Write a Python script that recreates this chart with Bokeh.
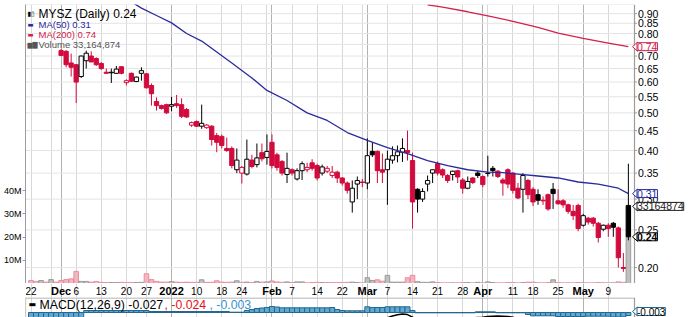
import math
from bokeh.plotting import figure
from bokeh.models import (Range1d, LinearAxis, LinearScale, FixedTicker,
                          CustomJSTickFormatter, Grid, Label)
from bokeh.layouts import column
from bokeh.embed import file_html
from bokeh.resources import INLINE
from bokeh.core.properties import value

NaN = float("nan")

# ---------------- data ----------------
symbol_title = "MYSZ (Daily)"
day = list(range(120))  # trading days 22 Nov 2021 .. 13 May 2022

open_p = [NaN, NaN, NaN, NaN, NaN, NaN,
          .723, .720, .672, .665, .620, .681, .700, .690, .670, .636,
          .634, .632, .657, .598, .632, .602, .632, .630, .588, .535,
          .522, .525, .520, .528, .525, .510, .465, .475, .462, .458,
          .462, .437, .435, .405, .405, .357, .350, .348, .378, .368,
          .395, .384, .420, .390, .375, .347, .357, .338, .355, .357,
          .372, .366, .350, .354, .345, .352, .340, .330, .295, .328,
          .332, .330, .398, .398, .357, .357, .378, .388, .396, .400,
          .377, .318, .300, .328, .350, .370, .357, .345, .347, .355,
          .336, .320, .340, .350, .343, .349, .360, .354, .336, .357,
          .350, .320, .318, .335, .318, .308, .298, .308, .318, .297,
          .297, .290, .279, .289, .257, .268, .268, .260, .251, .257,
          .260, .253, .200, .289]
high_p = [NaN, NaN, NaN, NaN, NaN, NaN,
          .730, .725, .710, .668, .702, .723, .720, .695, .675, .650,
          .650, .660, .660, .610, .635, .620, .655, .633, .595, .548,
          .525, .528, .550, .556, .545, .515, .475, .478, .525, .468,
          .465, .444, .440, .432, .410, .405, .365, .427, .390, .417,
          .417, .440, .440, .395, .378, .395, .360, .360, .375, .372,
          .380, .370, .368, .365, .365, .355, .342, .333, .335, .343,
          .338, .430, .420, .400, .393, .400, .410, .412, .430, .450,
          .395, .320, .320, .345, .357, .375, .360, .348, .355, .357,
          .340, .343, .342, .355, .345, .388, .365, .356, .340, .360,
          .352, .330, .350, .338, .322, .318, .305, .310, .330, .318,
          .300, .292, .290, .292, .275, .270, .270, .262, .258, .260,
          .262, .255, .218, .370]
low_p = [NaN, NaN, NaN, NaN, NaN, NaN,
         .700, .655, .620, .530, .615, .650, .675, .660, .645, .630,
         .597, .630, .628, .588, .600, .600, .605, .578, .522, .507,
         .510, .497, .505, .515, .485, .485, .460, .460, .455, .455,
         .412, .396, .405, .397, .360, .350, .329, .345, .360, .362,
         .375, .368, .360, .355, .345, .330, .345, .335, .336, .352,
         .355, .335, .345, .350, .340, .330, .325, .310, .277, .300,
         .322, .318, .385, .330, .330, .290, .370, .373, .374, .377,
         .252, .277, .295, .314, .330, .345, .340, .330, .335, .330,
         .310, .318, .328, .340, .322, .343, .343, .340, .306, .320,
         .310, .300, .277, .300, .288, .290, .290, .280, .283, .290,
         .285, .275, .265, .248, .255, .258, .255, .232, .248, .240,
         .240, .200, .195, .235]
close_p = [NaN, NaN, NaN, NaN, NaN, NaN,
           .702, .665, .655, .600, .700, .712, .676, .665, .650, .632,
           .636, .648, .632, .605, .603, .618, .642, .580, .560, .522,
           .513, .500, .525, .522, .490, .488, .472, .462, .470, .465,
           .427, .420, .412, .400, .366, .378, .362, .380, .364, .383,
           .381, .398, .366, .362, .350, .360, .350, .355, .370, .362,
           .360, .340, .363, .360, .352, .340, .330, .316, .320, .335,
           .331, .388, .390, .355, .352, .380, .388, .397, .405, .395,
           .295, .300, .314, .335, .357, .350, .346, .335, .354, .342,
           .320, .333, .331, .345, .327, .350, .355, .343, .330, .328,
           .316, .302, .345, .308, .295, .298, .297, .283, .310, .292,
           .290, .279, .272, .252, .272, .262, .260, .239, .257, .252,
           .254, .212, .199, .240]
volume_m = [1.3, 0.9, 1.3, 0.6, 1.7, 0.6, 1.3, 1.7, 2.0, 5.2,
            0.9, 0.9, 0.6, 0.9, 0.5, 0.4, 0.4, 0.4, 0.5, 0.4,
            0.4, 0.4, 0.5, 4.2, 1.7, 0.9, 0.6, 0.6, 0.8, 0.6,
            0.5, 0.6, 0.5, 0.5, 1.6, 0.5, 0.5, 1.2, 0.6, 0.5,
            0.6, 1.2, 0.5, 0.6, 0.4, 0.9, 0.6, 0.7, 1.1, 0.7,
            0.5, 0.7, 0.4, 0.7, 0.7, 0.3, 0.4, 0.5, 0.4, 0.4,
            0.4, 0.4, 0.4, 0.5, 0.6, 0.4, 0.3, 2.5, 1.3, 1.6,
            1.0, 3.5, 0.6, 0.6, 0.6, 2.5, 3.5, 0.8, 0.5, 0.5,
            0.7, 0.4, 0.3, 0.3, 0.3, 0.3, 0.4, 0.4, 0.3, 0.5,
            0.3, 0.7, 0.4, 0.3, 0.3, 0.4, 0.4, 0.3, 0.4, 0.6,
            0.6, 0.3, 0.3, 0.4, 1.6, 0.4, 0.3, 0.3, 0.3, 0.4,
            0.3, 0.3, 0.3, 0.4, 0.3, 0.3, 0.3, 0.7, 0.5, 33.164874]
early_up = [False, False, True, False, True, False]  # days whose candles sit above the chart

ma50_day = [20, 22, 25, 28, 31, 34, 37, 40, 44, 47, 51, 55, 59, 63, 67, 71, 75,
            79, 83, 87, 91, 94, 97, 101, 105, 109, 113, 117, 119]
ma50_val = [0.965, 0.930, 0.890, 0.852, 0.800, 0.765, 0.717, 0.672, 0.615, 0.571,
            0.538, 0.500, 0.478, 0.445, 0.425, 0.407, 0.393, 0.377, 0.366, 0.357,
            0.352, 0.351, 0.348, 0.344, 0.340, 0.332, 0.328, 0.320, 0.310]
ma200_day = [79, 82, 87, 91, 96, 101, 105, 110, 115, 119]
ma200_val = [0.948, 0.935, 0.910, 0.888, 0.860, 0.830, 0.802, 0.777, 0.756, 0.740]

macd_hist = [-0.012, -0.013, -0.012, -0.011, -0.012, -0.014, -0.016, -0.015, -0.013, -0.012,
             -0.009, 0.002, 0.002, 0.002, 0.002, 0.002, 0.002, 0.002, 0.002, 0.002,
             0.002, 0.002, 0.002, 0.002, 0.001, 0.001, 0.001, 0.001, 0.001, 0.001,
             0.001, 0.001, 0.001, 0.001, 0.001, 0.001, 0.001, 0.001, 0.001, 0.001,
             0.0003, 0.0003, 0.0003, 0.002, 0.003, 0.004, 0.0045, 0.005, 0.006, 0.0055,
             0.0047, 0.0047, 0.0047, 0.0047, 0.0047, 0.0047, 0.0047, 0.0047, 0.0047, 0.0047,
             0.005, 0.003, 0.002, 0.0017, 0.0017, 0.0017, 0.0017, 0.0057, 0.005, 0.005,
             0.005, 0.0057, 0.0057, 0.0057, 0.0057, 0.0057, 0.002, -0.0003, -0.0003, -0.0003,
             -0.0003, -0.0003, -0.0003, -0.0003, -0.0003, -0.0003, -0.0003, -0.0003, -0.0003, 0.0007,
             0.0007, 0.0007, 0.0007, -0.0003, -0.0003, -0.0003, -0.0003, -0.0003, -0.0003, -0.002,
             -0.0033, -0.0033, -0.0033, -0.0033, -0.0033, -0.004, -0.004, -0.004, -0.004, -0.004,
             -0.004, -0.0037, -0.0037, -0.0037, -0.0037, -0.0037, -0.0045, -0.0045, -0.0045, -0.003]
macd_line = [-0.060, -0.063, -0.066, -0.069, -0.073, -0.077, -0.082, -0.087, -0.091, -0.097,
             -0.099, -0.098, -0.096, -0.094, -0.092, -0.090, -0.087, -0.084, -0.081, -0.079,
             -0.077, -0.074, -0.071, -0.069, -0.068, -0.068, -0.067, -0.066, -0.065, -0.064,
             -0.063, -0.063, -0.062, -0.061, -0.060, -0.059, -0.058, -0.057, -0.056, -0.055,
             -0.054, -0.052, -0.050, -0.047, -0.044, -0.041, -0.038, -0.035, -0.032, -0.030,
             -0.028, -0.026, -0.024, -0.022, -0.020, -0.018, -0.017, -0.016, -0.015, -0.014,
             -0.013, -0.013, -0.013, -0.013, -0.012, -0.012, -0.011, -0.009, -0.008, -0.007,
             -0.006, -0.0052, -0.0035, -0.0022, -0.0016, -0.0021, -0.0046, -0.0075, -0.0085, -0.0088,
             -0.0086, -0.0082, -0.0078, -0.0074, -0.0070, -0.0066, -0.0062, -0.0058, -0.0054, -0.0050,
             -0.0047, -0.0040, -0.0037, -0.0036, -0.0037, -0.0040, -0.0048, -0.0062, -0.0075, -0.0090,
             -0.0105, -0.0120, -0.0132, -0.0145, -0.0155, -0.0165, -0.0175, -0.0185, -0.0195, -0.0205,
             -0.0215, -0.0222, -0.0230, -0.0238, -0.0245, -0.0252, -0.0260, -0.0275, -0.0290, -0.0270]

week_start_days = [0, 4, 9, 14, 19, 23, 28, 33, 38, 42, 47, 52, 57, 62, 66, 71, 76,
                   81, 86, 91, 96, 100, 105, 110, 115]
month_start_days = [6, 28, 48, 67, 90, 110]
tick_days = [0, 6, 9, 14, 19, 23, 28, 33, 38, 42, 48, 52, 57, 62, 67, 71, 76, 81,
             86, 90, 96, 100, 105, 110, 115]
tick_labels = ["22", "Dec", "6", "13", "20", "27", "2022", "10", "18", "24", "Feb",
               "7", "14", "22", "Mar", "7", "14", "21", "28", "Apr", "11", "18",
               "25", "May", "9"]
bold_labels = ["Dec", "2022", "Feb", "Mar", "Apr", "May"]
price_ticks = [0.20, 0.25, 0.30, 0.35, 0.40, 0.45, 0.50, 0.55, 0.60, 0.65, 0.70,
               0.80, 0.85, 0.90]
price_grid = [0.20, 0.25, 0.30, 0.35, 0.40, 0.45, 0.50, 0.55, 0.60, 0.65, 0.70,
              0.75, 0.80, 0.85, 0.90, 0.95]
volume_ticks = [10e6, 20e6, 30e6, 40e6]

last_close = 0.24
last_ma50 = 0.31
last_ma200 = 0.74
last_volume = 33164874
macd_now, signal_now, hist_now = -0.027, -0.024, -0.003

# ---------------- layout helpers ----------------
W = 688
LEFT = 25
PANEL_R = 634                # right edge of the plotting panels (pixels)
MAIN_H, TOP = 283, 4
BAND_H, MACD_H = 14, 20
X0, DX = 30.5, 5.02          # pixel of first day, pixels per day
P_TOP, P_BOT = 0.95, 0.182
VOL_TOP = 120e6
LOGSPAN = math.log(P_TOP / P_BOT)


def x_at(px):
    return (px - X0) / DX


def p_at(py):
    frac = (py - TOP) / (MAIN_H - TOP)
    return math.exp(math.log(P_TOP) - frac * LOGSPAN)


def py_of(p):
    return TOP + (MAIN_H - TOP) * math.log(P_TOP / p) / LOGSPAN


x_start = x_at(LEFT)
x_end = x_at(W)
x_panel = x_at(PANEL_R)

RED = "#d20b3d"
BLACK = "#000000"
NAVY = "#2a2a9c"
MA200_C = "#d4204c"
FONT = "Liberation Sans"
GRID_W = "#d8d8d8"
GRID_M = "#b2b2b2"
GRID_H = "#e4e4e4"
BORDER = "#9c9c9c"

# ---------------- main price panel ----------------
p = figure(width=W, height=MAIN_H, x_range=Range1d(x_start, x_end),
           y_range=Range1d(P_BOT, P_TOP), y_axis_type="log",
           y_axis_location=None, x_axis_location=None,
           toolbar_location=None, output_backend="svg",
           min_border_left=LEFT, min_border_right=0,
           min_border_top=TOP, min_border_bottom=0,
           background_fill_color="white", border_fill_color="white",
           outline_line_color=None)
p.grid.visible = False

# grid lines (stop at the panel's right edge)
p.segment(x0=[x_start] * len(price_grid), y0=price_grid,
          x1=[x_panel] * len(price_grid), y1=price_grid,
          line_color=GRID_H, line_width=1)
p.add_layout(Grid(dimension=0, ticker=FixedTicker(ticks=week_start_days),
                  grid_line_color=GRID_W))
p.add_layout(Grid(dimension=0, ticker=FixedTicker(ticks=month_start_days),
                  grid_line_color=GRID_M))

# panel borders (right and bottom)
p.segment(x0=[x_panel, x_start], y0=[P_BOT, P_BOT], x1=[x_panel, x_panel],
          y1=[P_TOP, P_BOT], line_color=BORDER, line_width=1.2)

# price scale on the right (drawn as text)
p.segment(x0=[x_panel] * len(price_ticks), y0=price_ticks,
          x1=[x_at(PANEL_R + 2.5)] * len(price_ticks), y1=price_ticks,
          line_color=BORDER, line_width=1)
p.text(x=[x_at(PANEL_R + 3.5)] * len(price_ticks), y=price_ticks,
       text=[f"{t:.2f}" for t in price_ticks], text_align="left",
       text_baseline="middle", text_font=value(FONT), text_font_size="10.5px",
       text_color="#000000")

# volume scale on the left
p.extra_y_ranges = {"vol": Range1d(0, VOL_TOP)}
p.extra_y_scales = {"vol": LinearScale()}
vax = LinearAxis(y_range_name="vol", ticker=FixedTicker(ticks=volume_ticks),
                 formatter=CustomJSTickFormatter(code="return (tick/1e6).toFixed(0) + 'M';"))
vax.major_label_text_font = FONT
vax.major_label_text_font_size = "9px"
vax.major_label_text_color = "#000000"
vax.axis_line_color = BORDER
vax.major_tick_line_color = BORDER
vax.major_tick_out = 3
vax.major_tick_in = 0
vax.minor_tick_line_color = None
vax.major_label_standoff = 1
p.add_layout(vax, "left")

# direction of each day (close vs previous close)
up_day = []
for i in day:
    if math.isnan(close_p[i]):
        up_day.append(early_up[i])
    else:
        prev = close_p[i - 1] if i > 0 else NaN
        up_day.append((not math.isnan(prev)) and close_p[i] > prev)

# volume bars
vol = [v * 1e6 for v in volume_m]
vol_fill = ["#c0c0c0" if u else "#f3b6c1" for u in up_day]
vol_line = ["#8c8c8c" if u else "#e2808f" for u in up_day]
p.vbar(x=day, top=vol, bottom=0, width=0.92, y_range_name="vol",
       fill_color=vol_fill, line_color=vol_line, line_width=0.8)

# candles
cx, ctop, cbot, chi, clo, cfill, cline = [], [], [], [], [], [], []
for i in day:
    if math.isnan(close_p[i]):
        continue
    col = BLACK if up_day[i] else RED
    hollow = close_p[i] > open_p[i]
    cx.append(i)
    ctop.append(max(open_p[i], close_p[i]))
    cbot.append(min(open_p[i], close_p[i]))
    chi.append(high_p[i])
    clo.append(low_p[i])
    cline.append(col)
    cfill.append("white" if hollow else col)
p.segment(x0=cx, y0=clo, x1=cx, y1=chi, line_color=cline, line_width=1)
p.vbar(x=cx, top=ctop, bottom=cbot, width=0.85, fill_color=cfill,
       line_color=cline, line_width=1)

# moving averages
p.line(ma50_day, ma50_val, line_color=NAVY, line_width=1.3)
p.line(ma200_day, ma200_val, line_color=MA200_C, line_width=1.3)

# legend (top-left)
legend_rows = [
    ("▮▯", f"{symbol_title} {last_close:.2f}", BLACK, "12px", 13),
    ("▬", f"MA(50) {last_ma50:.2f}", NAVY, "9.5px", 24),
    ("▬", f"MA(200) {last_ma200:.2f}", MA200_C, "9.5px", 34),
    ("▆▇", f"Volume {last_volume:,}", "#555555", "9.5px", 44),
]
for icon, txt, col, size, py in legend_rows:
    p.add_layout(Label(x=x_at(27), y=p_at(py), text=icon, text_color=col,
                       text_font="DejaVu Sans", text_font_size="6.5px",
                       text_baseline="middle", text_align="left"))
    p.add_layout(Label(x=x_at(38), y=p_at(py), text=txt, text_color=col,
                       text_font=FONT, text_font_size=size,
                       text_baseline="middle", text_align="left"))


# boxed last-value labels on the price scale, each with a small pointer
def value_box(py, txt, col, bold=False):
    p.patch(x=[x_at(PANEL_R - 2), x_at(PANEL_R + 3), x_at(PANEL_R + 3)],
            y=[p_at(py), p_at(py - 4.5), p_at(py + 4.5)],
            fill_color="white", line_color=col, line_width=1)
    p.add_layout(Label(x=x_at(PANEL_R + 2.5), y=p_at(py), text=txt,
                       text_color=col, text_font=FONT, text_font_size="10.5px",
                       text_font_style="bold" if bold else "normal",
                       text_baseline="middle", text_align="left",
                       background_fill_color="white", border_line_color=col,
                       padding=0))


vol_py = MAIN_H - (MAIN_H - TOP) * last_volume / VOL_TOP
value_box(py_of(last_ma200), f"{last_ma200:.2f}", MA200_C)
value_box(py_of(last_ma50), f"{last_ma50:.2f}", NAVY)
value_box(vol_py, f"{last_volume}", "#222222")
value_box(py_of(last_close), f"{last_close:.2f}", BLACK, bold=True)

# ---------------- date band ----------------
b = figure(width=W, height=BAND_H, x_range=p.x_range, y_range=Range1d(0, 1),
           x_axis_location=None, y_axis_location=None,
           toolbar_location=None, output_backend="svg",
           min_border_left=LEFT, min_border_right=0,
           min_border_top=0, min_border_bottom=0,
           background_fill_color="white", border_fill_color="white",
           outline_line_color=None)
b.grid.visible = False
b.add_layout(Grid(dimension=0, ticker=FixedTicker(ticks=week_start_days),
                  grid_line_color=GRID_W))
b.add_layout(Grid(dimension=0, ticker=FixedTicker(ticks=month_start_days),
                  grid_line_color=GRID_M))
nx = [d for d, t in zip(tick_days, tick_labels) if t not in bold_labels]
nt = [t for t in tick_labels if t not in bold_labels]
bx = [d for d, t in zip(tick_days, tick_labels) if t in bold_labels]
bt = [t for t in tick_labels if t in bold_labels]
b.text(x=nx, y=[0.5] * len(nx), text=nt, text_align="center", text_baseline="middle",
       text_font=value(FONT), text_font_size="10px", text_color="#000000")
b.text(x=bx, y=[0.5] * len(bx), text=bt, text_align="center", text_baseline="middle",
       text_font=value(FONT), text_font_size="11px", text_font_style="bold",
       text_color="#000000")

# ---------------- MACD panel ----------------
M_TOP, M_BOT = 0.015, -0.005
MPX = (M_TOP - M_BOT) / MACD_H   # value per pixel
m = figure(width=W, height=MACD_H, x_range=p.x_range, y_range=Range1d(M_BOT, M_TOP),
           x_axis_location=None, y_axis_location=None,
           toolbar_location=None, output_backend="svg",
           min_border_left=LEFT, min_border_right=0,
           min_border_top=0, min_border_bottom=0,
           background_fill_color="white", border_fill_color="white",
           outline_line_color=None)
m.grid.visible = False
m.add_layout(Grid(dimension=0, ticker=FixedTicker(ticks=week_start_days),
                  grid_line_color=GRID_W))
m.add_layout(Grid(dimension=0, ticker=FixedTicker(ticks=month_start_days),
                  grid_line_color=GRID_M))
m.vbar(x=day, top=macd_hist, bottom=0, width=1.0, fill_color="#62a8d4",
       line_color="#24678c", line_width=1)
m.line(day, macd_line, line_color="black", line_width=1.5)
m.segment(x0=[x_start, x_start, x_panel], y0=[M_TOP - 0.5 * MPX, M_BOT, M_BOT],
          x1=[x_panel, x_start, x_panel], y1=[M_TOP - 0.5 * MPX, M_TOP, M_TOP],
          line_color=BORDER, line_width=1.2)

mt_y = M_TOP - 7 * MPX
m.add_layout(Label(x=x_at(28), y=mt_y, text="▬", text_color="black",
                   text_font="DejaVu Sans", text_font_size="8px",
                   text_baseline="middle"))
m.add_layout(Label(x=x_at(39), y=mt_y, text=f"MACD(12,26,9) {macd_now:.3f}",
                   text_color="black", text_font=FONT, text_font_size="12.3px",
                   text_baseline="middle"))
m.add_layout(Label(x=x_at(164), y=mt_y, text=f", {signal_now:.3f}",
                   text_color="#e8101a", text_font=FONT, text_font_size="12.3px",
                   text_baseline="middle"))
m.add_layout(Label(x=x_at(209), y=mt_y, text=f", {hist_now:.3f}",
                   text_color="#3a92cf", text_font=FONT, text_font_size="12.3px",
                   text_baseline="middle"))
mb_y = M_TOP - 14 * MPX
m.patch(x=[x_at(PANEL_R - 2), x_at(PANEL_R + 3), x_at(PANEL_R + 3)],
        y=[mb_y, mb_y + 4.5 * MPX, mb_y - 4.5 * MPX],
        fill_color="white", line_color="#24678c", line_width=1)
m.add_layout(Label(x=x_at(PANEL_R + 2.5), y=mb_y, text=f"{hist_now:.3f}",
                   text_color="#000000", text_font=FONT, text_font_size="10px",
                   text_baseline="middle", background_fill_color="white",
                   border_line_color="#24678c", padding=0))

layout = column(p, b, m, spacing=0)
open("out.html", "w").write(file_html(layout, INLINE))
